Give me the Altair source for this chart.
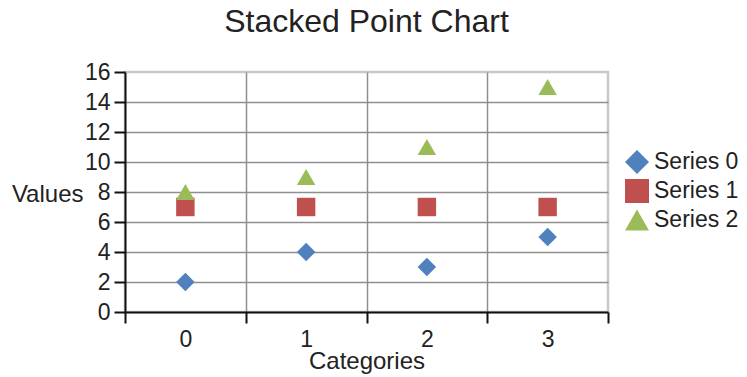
import altair as alt
import pandas as pd

categories = [0, 1, 2, 3]
series_names = ["Series 0", "Series 1", "Series 2"]
series0 = [2, 4, 3, 5]
series1 = [7, 7, 7, 7]
series2 = [8, 9, 11, 15]

rows = []
for name, vals in zip(series_names, [series0, series1, series2]):
    for c, v in zip(categories, vals):
        rows.append({"Category": c, "Value": v, "Series": name})
df = pd.DataFrame(rows)

FONT = "Liberation Sans"
TXT = "#222222"

x_axis = alt.Axis(
    values=[-0.5, 0, 0.5, 1, 1.5, 2, 2.5, 3, 3.5],
    labelExpr="datum.value % 1 == 0 ? format(datum.value, 'd') : ''",
    labelOverlap=False,
    labelFontSize=23,
    labelFont=FONT,
    labelColor=TXT,
    labelPadding=5,
    grid=True,
    gridColor="#8f8f8f",
    gridWidth=1.5,
    gridOpacity={"condition": {"test": "datum.value == 0.5 || datum.value == 1.5 || datum.value == 2.5", "value": 1}, "value": 0},
    tickOpacity={"condition": {"test": "datum.value % 1 != 0", "value": 1}, "value": 0},
    tickSize=11,
    tickWidth=2,
    tickColor="#111111",
    domainColor="#111111",
    domainWidth=2,
    title="Categories",
    titleFont=FONT,
    titleFontSize=24,
    titleFontWeight="normal",
    titleColor=TXT,
    titleBaseline="alphabetic",
    titleY=56,
)

y_axis = alt.Axis(
    values=[0, 2, 4, 6, 8, 10, 12, 14, 16],
    labelFontSize=23,
    labelFont=FONT,
    labelColor=TXT,
    labelPadding=4,
    grid=True,
    gridColor="#8f8f8f",
    gridWidth=1.5,
    gridOpacity={"condition": {"test": "datum.value == 0 || datum.value == 16", "value": 0}, "value": 1},
    tickSize=11,
    tickWidth=2,
    tickColor="#111111",
    domainColor="#111111",
    domainWidth=2,
    title="Values",
    titleFont=FONT,
    titleFontSize=24,
    titleFontWeight="normal",
    titleColor=TXT,
    titleAngle=0,
    titleAlign="right",
    titleBaseline="alphabetic",
    titleX=-42,
    titleY=129,
)

chart = (
    alt.Chart(df)
    .mark_point(filled=True, size=340, opacity=1, strokeWidth=0)
    .encode(
        x=alt.X("Category:Q", scale=alt.Scale(domain=[-0.5, 3.5], nice=False, zero=False), axis=x_axis),
        y=alt.Y("Value:Q", scale=alt.Scale(domain=[0, 16], nice=False), axis=y_axis),
        color=alt.Color(
            "Series:N",
            scale=alt.Scale(domain=series_names, range=["#4F81BD", "#C0504D", "#9BBB59"]),
            legend=alt.Legend(
                title=None,
                orient="none",
                legendX=500,
                legendY=78,
                labelFont=FONT,
                labelFontSize=23,
                labelColor=TXT,
                symbolSize=576,
                symbolStrokeWidth=0,
                labelOffset=5,
                rowPadding=5,
                padding=0,
            ),
        ),
        shape=alt.Shape(
            "Series:N",
            scale=alt.Scale(domain=series_names, range=["diamond", "square", "triangle-up"]),
            legend=None,
        ),
    )
    .properties(
        width=483,
        height=240,
        title=alt.TitleParams(
            "Stacked Point Chart",
            font=FONT,
            fontSize=32,
            fontWeight="normal",
            color=TXT,
            anchor="middle",
            offset=22,
        ),
        autosize=alt.AutoSizeParams(type="none"),
        padding={"left": 117, "top": 64, "right": 131, "bottom": 63},
    )
    .configure_view(stroke="#c8c8c8", strokeWidth=2.5)
)

chart.save("out.html", embed_options={"renderer": "svg", "actions": False})
